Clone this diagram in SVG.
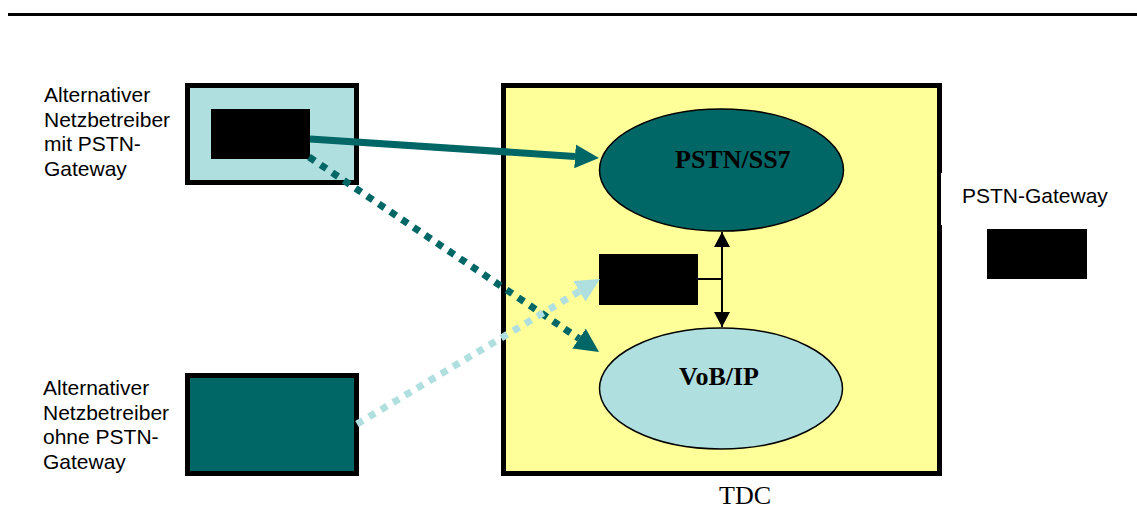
<svg xmlns="http://www.w3.org/2000/svg" width="1137" height="509" viewBox="0 0 1137 509">
<style>
.lbl{font-family:"Liberation Sans",Arial,sans-serif;font-size:21px;fill:#000}
.ser{font-family:"Liberation Serif","Times New Roman",serif;font-size:26px;fill:#000}
.bold{font-weight:bold}
.frame{stroke:#000;stroke-width:5}
.blk{fill:#000}
.ell{stroke:#000;stroke-width:1.5}
.solid{stroke:#006666;stroke-width:7;fill:none}
.dotdark{stroke:#006666;stroke-width:7;stroke-dasharray:7 7;fill:none}
.dotlight{stroke:#B0DFDF;stroke-width:7;stroke-dasharray:7 7;fill:none}
.thin{stroke:#000;stroke-width:2;fill:none}
</style>
<defs>
<marker id="ahDark" viewBox="0 0 24 24" refX="0" refY="12" markerWidth="24" markerHeight="24" markerUnits="userSpaceOnUse" orient="auto"><path d="M0,0 L24,12 L0,24 z" fill="#006666"/></marker>
<marker id="ahLight" viewBox="0 0 24 24" refX="0" refY="12" markerWidth="24" markerHeight="24" markerUnits="userSpaceOnUse" orient="auto"><path d="M0,0 L24,12 L0,24 z" fill="#B0DFDF"/></marker>
<marker id="ahBlk" viewBox="0 0 15 16" refX="15" refY="8" markerWidth="15" markerHeight="16" markerUnits="userSpaceOnUse" orient="auto-start-reverse"><path d="M0,0 L15,8 L0,16 z" fill="#000"/></marker>
</defs>
<rect width="1137" height="509" fill="#fff"/>
<line x1="8" y1="14.5" x2="1137" y2="14.5" stroke="#000" stroke-width="3"/>

<g id="tdc">
<rect x="503.5" y="85.5" width="436" height="388" fill="#FFFF99" class="frame"/>
<text x="719" y="504" class="ser">TDC</text>
</g>

<g id="pstn-gateway">
<rect x="941" y="173" width="175" height="52" fill="#fff"/>
<text x="962" y="203" class="lbl">PSTN-Gateway</text>
<rect x="987" y="229" width="100" height="50" class="blk"/>
</g>

<g id="alt-mit">
<rect x="187.5" y="85.5" width="169" height="97" fill="#B0DFDF" class="frame"/>
<rect x="211" y="109" width="99" height="50" class="blk"/>
<text class="lbl"><tspan x="44" y="102">Alternativer</tspan><tspan x="44" y="126.5">Netzbetreiber</tspan><tspan x="44" y="151">mit PSTN-</tspan><tspan x="44" y="175.5">Gateway</tspan></text>
</g>

<g id="alt-ohne">
<rect x="187.5" y="375.5" width="169" height="98" fill="#006666" class="frame"/>
<text class="lbl"><tspan x="43" y="395">Alternativer</tspan><tspan x="43" y="419.5">Netzbetreiber</tspan><tspan x="43" y="444">ohne PSTN-</tspan><tspan x="43" y="468.5">Gateway</tspan></text>
</g>

<g id="pstn-ss7">
<ellipse cx="721.5" cy="170" rx="122" ry="61" fill="#006666" class="ell"/>
<text x="675" y="168" class="ser bold">PSTN/SS7</text>
</g>

<g id="vobip">
<ellipse cx="721" cy="388.5" rx="121.5" ry="60.5" fill="#B0DFDF" class="ell"/>
<text x="679" y="385" class="ser bold">VoB/IP</text>
</g>

<g id="mid-box">
<rect x="599" y="254" width="99" height="51" class="blk"/>
</g>

<g id="connectors">
<line x1="310" y1="139" x2="575" y2="156.4" class="solid" marker-end="url(#ahDark)"/>
<line x1="309" y1="157" x2="579.1" y2="338.6" class="dotdark" marker-end="url(#ahDark)"/>
<line x1="357" y1="424" x2="579.4" y2="291.3" class="dotlight" marker-end="url(#ahLight)"/>
<line x1="722" y1="232" x2="722" y2="327" class="thin" marker-start="url(#ahBlk)" marker-end="url(#ahBlk)"/>
<line x1="698" y1="279" x2="722" y2="279" class="thin"/>
</g>
</svg>
